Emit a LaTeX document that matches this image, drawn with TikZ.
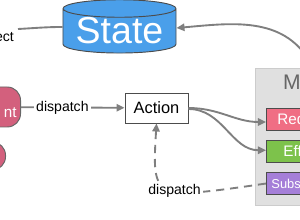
\documentclass[tikz,border=0pt]{standalone}
\usepackage{fontspec}
\setmainfont{Liberation Sans}
\usetikzlibrary{shapes.geometric, arrows.meta, positioning, calc}

\definecolor{stateblue}{HTML}{4A9FEA}
\definecolor{comppink}{HTML}{D3607D}
\definecolor{redpink}{HTML}{F06E84}
\definecolor{effgreen}{HTML}{7DC24B}
\definecolor{subpurple}{HTML}{A57FD8}
\definecolor{linegray}{HTML}{7F7F7F}

\begin{document}
\begin{tikzpicture}[
    x=0.03cm, y=0.03cm,
    font=\fontsize{12}{14}\selectfont,
    mbox/.style={
        rectangle,
        draw=black!70,
        line width=0.8pt,
        minimum height=0.66cm,
        text=white,
        anchor=west
    },
    blob/.style={
        rectangle,
        rounded corners=0.4cm,
        draw=black!60,
        fill=comppink,
        line width=0.8pt,
        text=white
    },
    arrow/.style={draw=linegray, line width=1.6pt, -{Triangle[length=0.24cm, width=0.22cm]}},
    conn/.style={draw=linegray, line width=1.6pt},
    tag/.style={fill=white, inner sep=2pt}
]
    \useasboundingbox (0,0) rectangle (300,220);
    \clip (0,0) rectangle (300,220);

    \node (state) [cylinder, shape border rotate=90, aspect=0.2, draw=black!70, fill=stateblue,
        line width=0.8pt, minimum width=3.39cm, minimum height=1.44cm, inner sep=0pt,
        text=white, font=\fontsize{32}{36}\selectfont] at (119.5,189) {State};

    \node (box_m) [rectangle, draw=black!20, fill=black!12, line width=0.8pt,
        minimum width=2.4cm, minimum height=4.11cm, anchor=north west] at (255,152) {};
    \node (mlabel) [anchor=west, inner sep=0pt, text=black!60, font=\fontsize{18}{20}\selectfont] at (283,137.5) {M};

    \node (reducer) [mbox, fill=redpink, inner xsep=0.33cm, font=\fontsize{13}{15}\selectfont] at (266,101) {Red};
    \node (effects) [mbox, fill=effgreen, inner xsep=0.51cm, font=\fontsize{13}{15}\selectfont,
        below=0.28cm of reducer.south west, anchor=north west] {Eff};
    \node (subs) [mbox, fill=subpurple, inner xsep=0.15cm, font=\fontsize{11}{13}\selectfont,
        below=0.28cm of effects.south west, anchor=north west] {Subs};

    \node (action) [rectangle, draw=black!70, fill=white, line width=0.8pt, minimum width=1.89cm,
        minimum height=0.9cm, font=\fontsize{14}{16}\selectfont] at (156.5,112) {Action};

    \node (comp) [blob, anchor=east, minimum height=1.2cm, text width=2cm, align=right,
        inner xsep=0.12cm, font=\fontsize{13}{15}\selectfont] at (21,113) {\raisebox{-0.18cm}[\height][\depth]{nt}};
    \node (comp2) [blob, anchor=east, minimum height=0.84cm, minimum width=2cm] at (6,64) {};

    \node (sel) [anchor=east, inner sep=0pt] at (14,183) {ect};
    \coordinate (selend) at (18,191);
    \coordinate (mtop) at (310,158);

    \draw [conn] ($(state.west)+(0,4)$) to[out=180, in=3] (selend);
    \draw [arrow] (mtop) to[out=120, in=5] ($(state.east)+(0,3)$);

    \draw [arrow] (comp) -- node[tag, pos=0.4] {dispatch} (action);

    \draw [arrow] (action.east) to[out=0, in=180] ($(reducer.west)+(0,-3)$);
    \draw [arrow] ($(action.east)+(0,-1)$) to[out=0, in=180] ($(effects.west)+(0,1)$);

    \draw [arrow, dash pattern=on 7pt off 5pt] (subs.west) .. controls (152,20) .. (action.south)
        node[tag, pos=0.42] {dispatch};

\end{tikzpicture}
\end{document}
